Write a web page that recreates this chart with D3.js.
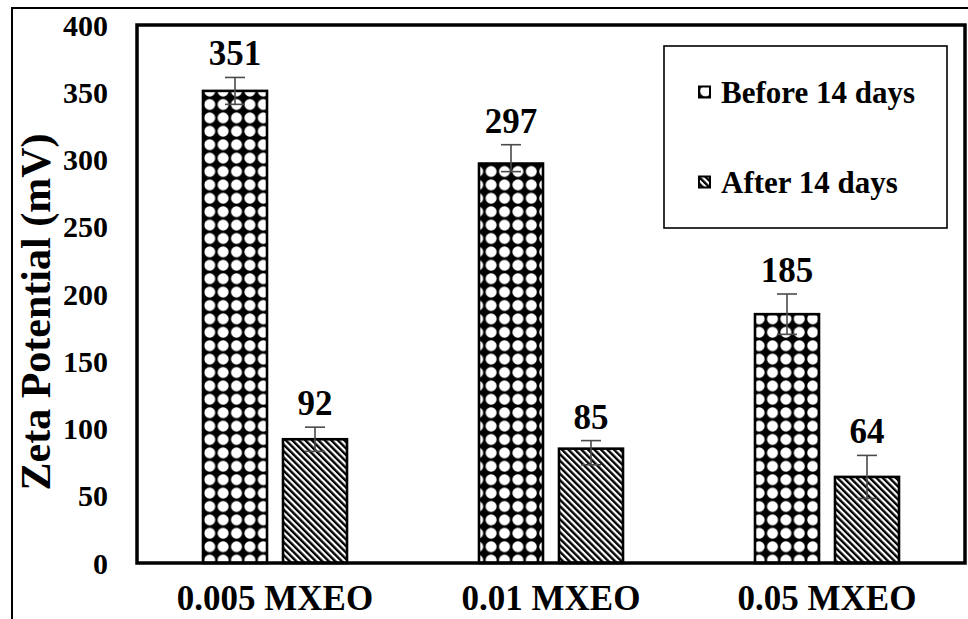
<!DOCTYPE html>
<html>
<head>
<meta charset="utf-8">
<script src="https://cdn.jsdelivr.net/npm/d3@7"></script>
<style>
  html, body { margin: 0; padding: 0; background: #fff; }
</style>
</head>
<body>
<svg id="chart" width="968" height="619"></svg>
<script>
// Zeta potential of MXEO formulations before and after 14 days of storage
const categories = ["0.005 MXEO", "0.01 MXEO", "0.05 MXEO"];
const seriesNames = ["Before 14 days", "After 14 days"];
const beforeValues = [351, 297, 185];
const afterValues = [92, 85, 64];
const beforeErrUp = [10, 14, 15];
const beforeErrDown = [10, 6, 15];
const afterErrUp = [9, 6, 16];
const afterErrDown = [9, 12, 16];
const yTicks = [0, 50, 100, 150, 200, 250, 300, 350, 400];

const FONT = '"Liberation Serif"';
const serif = (sel, size) => sel.style("font-family", FONT).style("font-weight", "bold")
  .style("font-size", size + "px").style("fill", "#000");

const rows = [];
categories.forEach((c, i) => {
  rows.push({ cat: c, series: seriesNames[0], value: beforeValues[i], up: beforeErrUp[i], down: beforeErrDown[i] });
  rows.push({ cat: c, series: seriesNames[1], value: afterValues[i], up: afterErrUp[i], down: afterErrDown[i] });
});

const svg = d3.select("#chart");
const plot = { left: 137, right: 965, top: 25, bottom: 563 };

// fill patterns
const defs = svg.append("defs");
const dots = defs.append("pattern").attr("id", "pat-before")
  .attr("patternUnits", "userSpaceOnUse").attr("width", 13.4).attr("height", 13.4)
  .attr("x", 2).attr("y", 4);
dots.append("rect").attr("width", 13.4).attr("height", 13.4).attr("fill", "#000");
dots.append("circle").attr("cx", 6.7).attr("cy", 6.7).attr("r", 5.5).attr("fill", "#fff");

const hatch = defs.append("pattern").attr("id", "pat-after")
  .attr("patternUnits", "userSpaceOnUse").attr("width", 4.6).attr("height", 4.6)
  .attr("patternTransform", "rotate(-45)");
hatch.append("rect").attr("width", 4.6).attr("height", 4.6).attr("fill", "#fff");
hatch.append("rect").attr("width", 2.4).attr("height", 4.6).attr("fill", "#000");

const fills = { [seriesNames[0]]: "url(#pat-before)", [seriesNames[1]]: "url(#pat-after)" };

// outer frame
svg.append("rect").attr("x", 12).attr("y", 8).attr("width", 1000).attr("height", 700)
  .attr("fill", "none").attr("stroke", "#000").attr("stroke-width", 2);

const x0 = d3.scaleBand().domain(categories).range([plot.left, plot.right]).padding(0);
const groupW = 144;
const x1 = d3.scaleBand().domain(seriesNames).range([-groupW / 2, groupW / 2]).paddingInner(0.2).paddingOuter(0);
const y = d3.scaleLinear().domain([0, 400]).range([plot.bottom, plot.top]);

// y axis labels
const yAxis = d3.axisLeft(y).tickValues(yTicks).tickSize(0).tickPadding(29);
const gy = svg.append("g").attr("transform", `translate(${plot.left},0)`).call(yAxis);
gy.select(".domain").remove();
serif(gy.selectAll("text"), 30).attr("dy", "0.34em");

// bars
const barX = d => x0(d.cat) + x0.bandwidth() / 2 + x1(d.series);
svg.append("g").selectAll("rect").data(rows).join("rect")
  .attr("x", barX)
  .attr("y", d => y(d.value))
  .attr("width", x1.bandwidth())
  .attr("height", d => y(0) - y(d.value))
  .attr("fill", d => fills[d.series])
  .attr("stroke", "#000").attr("stroke-width", 2.6);

// error bars
const eg = svg.append("g").attr("stroke", "#4a4a4a").attr("stroke-width", 1.6);
rows.forEach(d => {
  const cx = barX(d) + x1.bandwidth() / 2;
  const yt = y(d.value + d.up), yb = y(d.value - d.down);
  eg.append("line").attr("x1", cx).attr("x2", cx).attr("y1", yt).attr("y2", yb);
  eg.append("line").attr("x1", cx - 10).attr("x2", cx + 10).attr("y1", yt).attr("y2", yt);
  eg.append("line").attr("x1", cx - 10).attr("x2", cx + 10).attr("y1", yb).attr("y2", yb);
});

// value labels above the error bars
serif(svg.append("g").selectAll("text").data(rows).join("text")
  .attr("x", d => barX(d) + x1.bandwidth() / 2)
  .attr("y", d => y(d.value + d.up) - 12)
  .attr("text-anchor", "middle")
  .text(d => d.value), 35);

// plot frame
svg.append("rect").attr("x", plot.left).attr("y", plot.top)
  .attr("width", plot.right - plot.left).attr("height", plot.bottom - plot.top)
  .attr("fill", "none").attr("stroke", "#000").attr("stroke-width", 3.5);

// category labels
const xAxis = d3.axisBottom(x0).tickSize(0).tickPadding(22);
const gx = svg.append("g").attr("transform", `translate(0,${plot.bottom})`).call(xAxis);
gx.select(".domain").remove();
serif(gx.selectAll("text"), 35).attr("dy", "0.71em");

// y axis title
serif(svg.append("text")
  .attr("transform", `translate(50,${(plot.top + plot.bottom) / 2 + 18}) rotate(-90)`)
  .attr("text-anchor", "middle")
  .text("Zeta Potential (mV)"), 42);

// legend
const lg = svg.append("g");
lg.append("rect").attr("x", 664).attr("y", 46).attr("width", 283).attr("height", 182)
  .attr("fill", "#fff").attr("stroke", "#000").attr("stroke-width", 1.6);
const legendY = d3.scalePoint().domain(seriesNames).range([92, 182]);
seriesNames.forEach(s => {
  const cy = legendY(s);
  lg.append("rect").attr("x", 699).attr("y", cy - 5.5).attr("width", 11).attr("height", 11)
    .attr("fill", fills[s]).attr("stroke", "#000").attr("stroke-width", 2);
  serif(lg.append("text").attr("x", 721).attr("y", cy).attr("dy", "0.35em").text(s), 31);
});
</script>
</body>
</html>
